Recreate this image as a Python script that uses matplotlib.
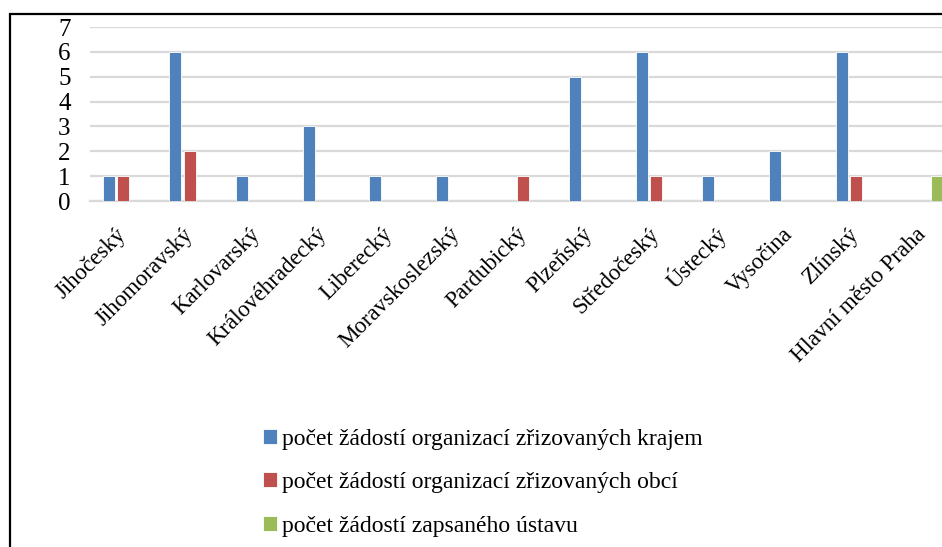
import matplotlib
matplotlib.use('Agg')
import matplotlib.pyplot as plt
import numpy as np
from matplotlib.patches import Rectangle

plt.rcParams['font.family'] = ['Liberation Serif', 'DejaVu Serif']

kraje = ['Jihočeský', 'Jihomoravský', 'Karlovarský', 'Královéhradecký',
         'Liberecký', 'Moravskoslezský', 'Pardubický', 'Plzeňský',
         'Středočeský', 'Ústecký', 'Vysočina', 'Zlínský', 'Hlavní město Praha']
zrizovane_krajem = [1, 6, 1, 3, 1, 1, 0, 5, 6, 1, 2, 6, 0]
zrizovane_obci = [1, 2, 0, 0, 0, 0, 1, 0, 1, 0, 0, 1, 0]
zapsany_ustav = [0, 0, 0, 0, 0, 0, 0, 0, 0, 0, 0, 0, 1]
nazvy = ['počet žádostí organizací zřizovaných krajem',
         'počet žádostí organizací zřizovaných obcí',
         'počet žádostí zapsaného ústavu']
barvy = ['#4f81bd', '#c0504d', '#9bbb59']

W, H, dpi = 942, 547, 100
fig = plt.figure(figsize=(W / dpi, H / dpi), dpi=dpi)

# plot area runs off the right edge (reference is cropped)
x0, x1 = 90, 956
y0, y1 = 201, 27
ax = fig.add_axes([x0 / W, 1 - y0 / H, (x1 - x0) / W, (y0 - y1) / H])

x = np.arange(len(kraje))
off = 0.217
w = 0.18
handles = []
for i, (vals, barva) in enumerate(zip([zrizovane_krajem, zrizovane_obci, zapsany_ustav], barvy)):
    b = ax.bar(x + (i - 1) * off, vals, w, color=barva, edgecolor='white',
               linewidth=0.6, zorder=3, label=nazvy[i])
    handles.append(b)

ax.set_xlim(-0.5, len(kraje) - 0.5)
ax.set_ylim(0, 7)
ax.set_yticks(range(0, 8))
ax.yaxis.grid(True, color='#d9d9d9', linewidth=1.6, zorder=0)
ax.set_axisbelow(True)
for s in ['top', 'right', 'left']:
    ax.spines[s].set_visible(False)
ax.spines['bottom'].set_color('#d9d9d9')
ax.spines['bottom'].set_linewidth(1.6)
ax.tick_params(axis='both', length=0)
ax.tick_params(axis='y', pad=14, labelsize=18)

ax.set_xticks(x)
ax.set_xticklabels(kraje, rotation=45, ha='right', va='center',
                   rotation_mode='anchor', fontsize=17.5)
pad = 21
ax.tick_params(axis='x', pad=pad)

# fit the rotated labels: last label ~142 px wide, label tops ~224 px from top
fig.canvas.draw()
r = fig.canvas.get_renderer()
bb = ax.get_xticklabels()[-1].get_window_extent(r)
fs = 17.5 * 142 / bb.width
for t in ax.get_xticklabels():
    t.set_fontsize(fs)
fig.canvas.draw()
bb = ax.get_xticklabels()[-1].get_window_extent(r)
pad += (224 - (H - bb.y1)) * 72 / dpi
ax.tick_params(axis='x', pad=pad)

leg = fig.legend(handles=handles, loc='upper left', bbox_to_anchor=(251 / W, 1 - 417 / H),
                 frameon=False, fontsize=17, handlelength=0.6, handleheight=0.6,
                 handletextpad=0.2, labelspacing=0.95, borderpad=0)

# chart border (only left and top visible in the crop)
fig.patches.append(Rectangle((10 / W, -0.05), 1.1, 1 - 14 / H + 0.05,
                             transform=fig.transFigure, fill=False,
                             edgecolor='black', linewidth=1.6))

fig.savefig('out.png', dpi=dpi)
